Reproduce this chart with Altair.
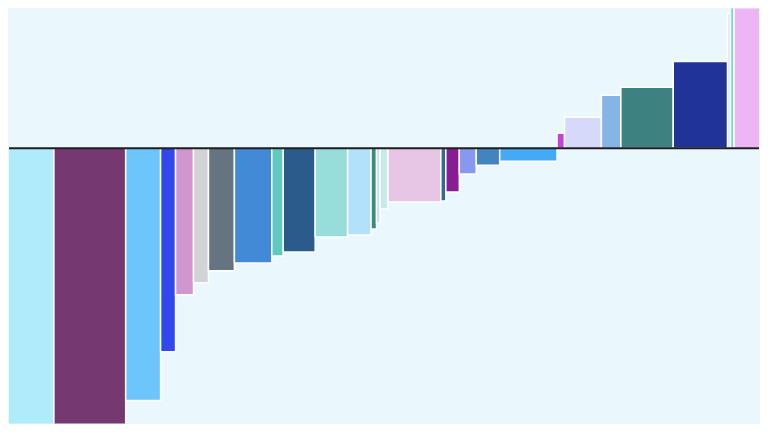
import altair as alt
import pandas as pd

# widths (quantity) and values (cost) of each segment, left to right
widths = [53, 72, 35, 15, 18, 15, 26, 37.5, 11.5, 32, 32.5, 23.5, 5.5, 3.5, 8,
          53, 5, 13.5, 17, 23.5, 57.5, 7.5, 37, 19.5, 52.5, 54.5, 3, 3.5, 33]
values = [-320, -300, -253, -204, -147, -135, -123, -115, -108, -104, -89, -87,
          -81, -75, -61, -54, -53, -44, -26, -17, -13, 15, 31, 53, 61, 87, 135,
          170, 190]
colors = ["#AEECFB", "#763870", "#6CC5FB", "#3347EE", "#D195CF", "#D1D3D6",
          "#657480", "#428AD6", "#5FCABD", "#2B5B8B", "#97DDD9", "#B2E1FB",
          "#3A8C7C", "#C8DDEB", "#C5ECE9", "#E7C5E5", "#2D6B9B", "#861D93",
          "#8898F0", "#4283C1", "#43AAF5", "#C441DC", "#D7D9FA", "#86B4E6",
          "#3E8181", "#1F3399", "#D3E7F1", "#6BD7C4", "#EDB5F6"]

ends = pd.Series(widths).cumsum()
df = pd.DataFrame({
    "id": [f"s{i:02d}" for i in range(len(widths))],
    "x0": (ends - pd.Series(widths)).values,
    "x1": ends.values,
    "v": values,
    "zero": [0] * len(widths),
})

xs = alt.Scale(domain=[8, 760], nice=False, zero=False)
ys = alt.Scale(domain=[-276, 140], nice=False, zero=False)

bars = alt.Chart(df).mark_bar(clip=True, stroke="#FFFFFF", strokeWidth=1.5).encode(
    x=alt.X("x0:Q", scale=xs, axis=None),
    x2="x1:Q",
    y=alt.Y("v:Q", scale=ys, axis=None),
    y2="zero:Q",
    color=alt.Color("id:N", scale=alt.Scale(domain=df["id"].tolist(), range=colors), legend=None),
)

rule = alt.Chart(pd.DataFrame({"zero": [0]})).mark_rule(color="#1E1E1E", strokeWidth=2).encode(
    y=alt.Y("zero:Q", scale=ys, axis=None)
)

chart = alt.layer(bars, rule).properties(
    width=752, height=416, padding=0, background="#EAF7FC"
).configure_view(stroke=None)

chart.save("out.html", embed_options={"renderer": "svg", "actions": False})
